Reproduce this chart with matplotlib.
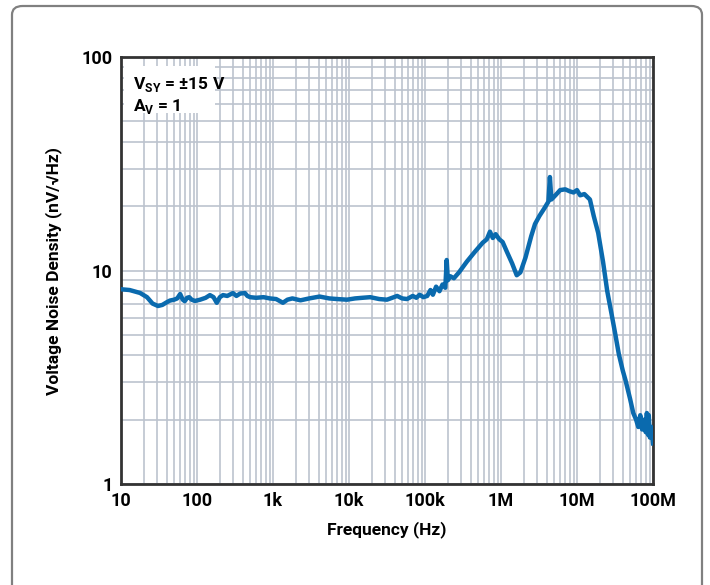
import matplotlib.pyplot as plt
from matplotlib.patches import FancyBboxPatch, Rectangle
from matplotlib.ticker import FixedLocator, LogLocator, NullFormatter

plt.rcParams['font.family'] = ['Roboto', 'DejaVu Sans']
plt.rcParams['font.weight'] = 'bold'

# Frequency (Hz) and voltage noise density (nV/rtHz)
freq = [10, 13, 17.8, 22, 26, 30.7, 35, 40, 44, 50, 55, 60, 65, 69, 74, 79, 85, 94,
        110, 130, 148, 165, 182, 200, 220, 250, 297, 330, 370, 427, 460, 500,
        600, 750, 910, 1100, 1350, 1550, 1800, 2300, 3000, 4100, 5500, 7000,
        9400, 12000, 15000, 19000, 25000, 31600, 37000, 43000, 50000, 58000,
        69000, 77000, 85000, 95000, 107000, 118000, 127000, 140000, 155000,
        170000, 185000, 193000, 200000, 215000, 240000, 280000, 355000, 450000,
        575000, 650000, 716000, 780000, 850000, 950000, 1.05e6, 1.2e6, 1.4e6,
        1.61e6, 1.8e6, 2.1e6, 2.5e6, 2.8e6, 3.2e6, 3.7e6, 4.2e6, 4.4e6, 4.6e6,
        5.2e6, 6e6, 7e6, 8e6, 9e6, 10e6, 11e6, 12.5e6, 14.8e6, 16.6e6, 19e6,
        22e6, 25e6, 29e6, 32e6, 35.5e6, 40e6, 43.6e6, 50e6, 55e6, 60e6, 64e6,
        68e6, 72e6, 76e6, 80e6, 83e6, 86e6, 88e6, 91e6, 95e6, 100e6]
noise = [8.17, 8.1, 7.85, 7.5, 7.0, 6.82, 6.9, 7.1, 7.23, 7.3, 7.4, 7.76, 7.3, 7.18,
         7.45, 7.5, 7.3, 7.2, 7.3, 7.45, 7.67, 7.5, 7.06, 7.5, 7.67, 7.6, 7.84,
         7.6, 7.8, 7.84, 7.6, 7.5, 7.45, 7.5, 7.4, 7.35, 7.06, 7.3, 7.4, 7.25,
         7.4, 7.55, 7.4, 7.35, 7.3, 7.4, 7.45, 7.5, 7.35, 7.3, 7.45, 7.6, 7.4,
         7.35, 7.6, 7.45, 7.7, 7.5, 7.6, 8.1, 7.7, 8.4, 8.0, 8.6, 8.3, 11.2,
         9.0, 9.4, 9.2, 9.8, 11.0, 12.2, 13.5, 14.0, 15.2, 14.2, 14.8, 14.0,
         13.6, 12.2, 10.8, 9.5, 9.8, 11.5, 14.5, 16.5, 18.0, 19.5, 21.0, 27.4,
         21.5, 22.5, 23.8, 24.0, 23.5, 23.2, 23.8, 22.5, 22.8, 21.5, 18.0, 15.0,
         11.0, 8.0, 6.05, 5.0, 4.06, 3.4, 3.05, 2.5, 2.15, 2.0, 1.85, 2.1, 1.8,
         2.0, 1.75, 2.15, 1.7, 2.1, 1.65, 1.85, 1.55]

xticks = [10, 100, 1e3, 1e4, 1e5, 1e6, 1e7, 1e8]
xtick_labels = ['10', '100', '1k', '10k', '100k', '1M', '10M', '100M']
yticks = [1, 10, 100]
ytick_labels = ['1', '10', '100']

fig = plt.figure(figsize=(7.1, 5.85), dpi=100)

# rounded outer border
fig.patches.append(FancyBboxPatch((12 / 710, -0.05), 690 / 710, 1.05 - 6 / 585,
                                  boxstyle='round,pad=0,rounding_size=0.015',
                                  transform=fig.transFigure, facecolor='none',
                                  edgecolor='#808080', linewidth=1.6, zorder=-1))

ax = fig.add_axes([121 / 710, 101 / 585, 532 / 710, 427 / 585])
ax.set_xscale('log')
ax.set_yscale('log')
ax.set_xlim(10, 1e8)
ax.set_ylim(1, 100)

ax.xaxis.set_major_locator(FixedLocator(xticks))
ax.yaxis.set_major_locator(FixedLocator(yticks))
ax.xaxis.set_minor_locator(LogLocator(base=10, subs=range(2, 10), numticks=20))
ax.yaxis.set_minor_locator(LogLocator(base=10, subs=range(2, 10), numticks=20))
ax.xaxis.set_minor_formatter(NullFormatter())
ax.yaxis.set_minor_formatter(NullFormatter())
ax.set_xticklabels(xtick_labels, fontsize=13, fontweight='bold')
ax.set_yticklabels(ytick_labels, fontsize=13, fontweight='bold')
ax.tick_params(which='both', length=0, pad=6)

ax.grid(which='both', color='#bcc3ce', linewidth=1.2)
ax.set_axisbelow(True)
for s in ax.spines.values():
    s.set_color('#333333')
    s.set_linewidth(2)

ax.plot(freq, noise, color='#0a6aae', linewidth=3.2, zorder=3, solid_joinstyle='round')

# white box behind the conditions text
ax.add_patch(Rectangle((0.005, 0.868), 0.172, 0.112, transform=ax.transAxes,
                       facecolor='white', edgecolor='none', zorder=1.5))
ax.text(0.022, 0.958, r'V$_{\mathregular{SY}}$ = ±15 V', transform=ax.transAxes,
        fontsize=12.5, fontweight='bold', va='top', zorder=4)
ax.text(0.022, 0.906, r'A$_{\mathregular{V}}$ = 1', transform=ax.transAxes,
        fontsize=12.5, fontweight='bold', va='top', zorder=4)

ax.set_xlabel('Frequency (Hz)', fontsize=12.5, fontweight='bold', labelpad=8)
ax.set_ylabel('Voltage Noise Density (nV/\u221aHz)', fontsize=12.5,
              fontweight='bold', labelpad=14)

fig.savefig('out.png', dpi=100)
